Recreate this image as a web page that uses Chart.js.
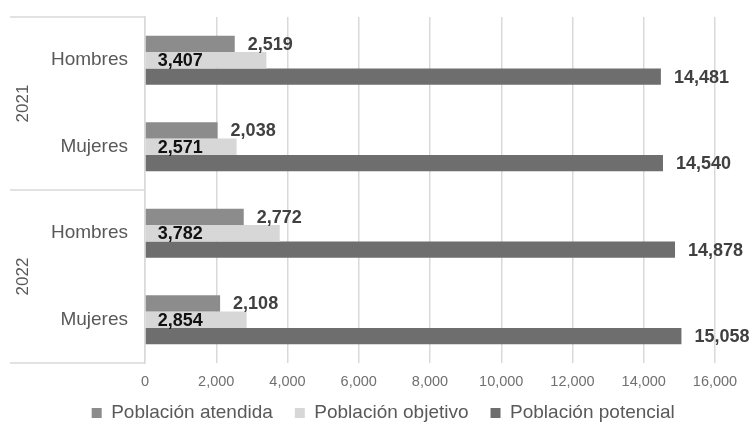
<!DOCTYPE html>
<html>
<head>
<meta charset="utf-8">
<script src="https://cdn.jsdelivr.net/npm/chart.js@4.4.1/dist/chart.umd.min.js"></script>
<style>
  html, body { margin: 0; padding: 0; background: #fff; }
  #wrap { width: 753px; height: 430px; position: relative; }
</style>
</head>
<body>
<div id="wrap"><canvas id="chart"></canvas></div>
<script>
// Data
const categories = ['Hombres', 'Mujeres', 'Hombres', 'Mujeres'];
const years = ['2021', '2022'];
const seriesNames = ['Población atendida', 'Población objetivo', 'Población potencial'];
const atendida = [2519, 2038, 2772, 2108];
const objetivo = [3407, 2571, 3782, 2854];
const potencial = [14481, 14540, 14878, 15058];
const xMin = 0, xMax = 16000, xStep = 2000;

const FONT = '"Liberation Sans", Arial, sans-serif';
Chart.defaults.font.family = FONT;

// Value labels next to / inside the bars
const barLabels = {
    id: 'barLabels',
    afterDatasetsDraw(chart) {
        const ctx = chart.ctx;
        ctx.save();
        ctx.font = 'bold 18px ' + FONT;
        ctx.textBaseline = 'middle';
        ctx.textAlign = 'left';
        chart.data.datasets.forEach((ds, i) => {
            chart.getDatasetMeta(i).data.forEach((bar, j) => {
                const txt = ds.data[j].toLocaleString('en-US');
                if (ds.labelAt === 'base') {
                    ctx.fillStyle = '#111';
                    ctx.fillText(txt, bar.base + 12, bar.y + 1);
                } else {
                    ctx.fillStyle = '#404040';
                    ctx.fillText(txt, bar.x + 13, bar.y + 1);
                }
            });
        });
        ctx.restore();
    }
};

// Year group labels and separator lines on the left
const yearGroups = {
    id: 'yearGroups',
    afterDraw(chart) {
        const ys = chart.scales.y, area = chart.chartArea, ctx = chart.ctx;
        const per = categories.length / years.length;
        ctx.save();
        ctx.strokeStyle = '#d9d9d9';
        ctx.lineWidth = 1.5;
        const edges = [area.top];
        for (let g = 1; g < years.length; g++) {
            edges.push((ys.getPixelForValue(g * per - 1) + ys.getPixelForValue(g * per)) / 2);
        }
        edges.push(area.bottom);
        edges.forEach(e => {
            ctx.beginPath();
            ctx.moveTo(10, e);
            ctx.lineTo(area.left, e);
            ctx.stroke();
        });
        ctx.fillStyle = '#595959';
        ctx.font = '17px ' + FONT;
        ctx.textAlign = 'center';
        ctx.textBaseline = 'middle';
        years.forEach((yr, g) => {
            const cy = (ys.getPixelForValue(g * per) + ys.getPixelForValue(g * per + per - 1)) / 2;
            ctx.save();
            ctx.translate(23, cy);
            ctx.rotate(-Math.PI / 2);
            ctx.fillText(yr, 0, 0);
            ctx.restore();
        });
        ctx.restore();
    }
};

const ctx = document.getElementById('chart').getContext('2d');
new Chart(ctx, {
    type: 'bar',
    data: {
        labels: categories,
        datasets: [{
            label: seriesNames[0],
            data: atendida,
            backgroundColor: '#8c8c8c',
            labelAt: 'end'
        }, {
            label: seriesNames[1],
            data: objetivo,
            backgroundColor: '#d7d7d7',
            labelAt: 'base'
        }, {
            label: seriesNames[2],
            data: potencial,
            backgroundColor: '#6e6e6e',
            labelAt: 'end'
        }]
    },
    options: {
        indexAxis: 'y',
        responsive: true,
        maintainAspectRatio: false,
        animation: false,
        datasets: {
            bar: { categoryPercentage: 0.566, barPercentage: 1.0, borderWidth: 0 }
        },
        layout: { padding: { top: 17, left: 51.5, right: 38, bottom: -2.5 } },
        plugins: {
            legend: {
                position: 'bottom',
                labels: {
                    boxWidth: 10,
                    boxHeight: 10,
                    padding: 22,
                    color: '#595959',
                    font: { size: 19 }
                }
            },
            tooltip: { enabled: false }
        },
        scales: {
            x: {
                min: xMin,
                max: xMax,
                ticks: {
                    stepSize: xStep,
                    padding: 10,
                    color: '#707070',
                    font: { size: 14.5 },
                    callback: v => v.toLocaleString('en-US')
                },
                grid: { color: '#d9d9d9', lineWidth: 1.5, drawTicks: false },
                border: { display: false },
                afterFit: s => {
                    // keep the axis box short so the legend sits close; let labels overflow it
                    s.height = 18.5;
                    s._computeLabelArea = () => undefined;
                }
            },
            y: {
                ticks: { padding: 17, color: '#595959', font: { size: 19 } },
                grid: { display: false, drawTicks: false },
                border: { display: true, color: '#d9d9d9', width: 1.5 },
                afterFit: s => {
                    s.width = 93.5;
                    s.paddingTop = 0;
                    s.paddingBottom = 0;
                }
            }
        }
    },
    plugins: [barLabels, yearGroups]
});
</script>
</body>
</html>
